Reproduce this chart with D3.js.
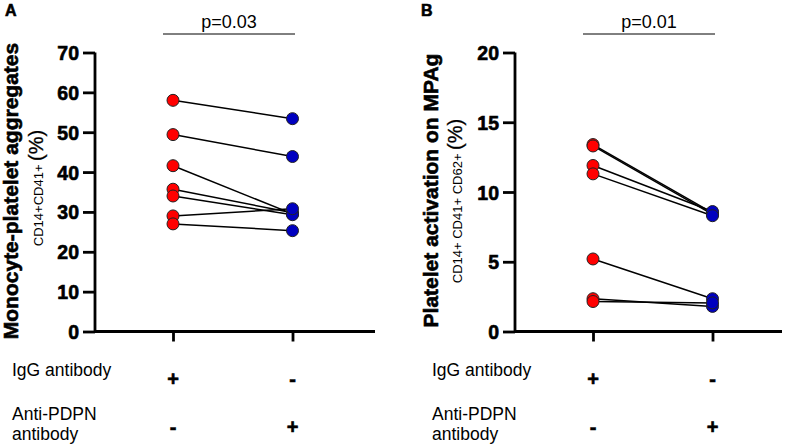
<!DOCTYPE html>
<html>
<head>
<meta charset="utf-8">
<script src="https://cdn.jsdelivr.net/npm/d3@7"></script>
<style>
  body { margin: 0; background: #fff; }
  svg { font-family: Arial, "Liberation Sans", sans-serif; }
  .heavy { stroke: #000; stroke-width: 0.6px; }
</style>
</head>
<body>
<div id="chart"></div>
<script>
// data
const groups = ["IgG", "antiPDPN"]

const aggIgG  = [58, 49.4, 41.6, 35.7, 34, 29, 27]
const aggPDPN = [53.4, 43.9, 29.5, 29.8, 29.3, 30.8, 25.3]
const aggTicks = [0, 10, 20, 30, 40, 50, 60, 70]

const actIgG  = [13.4, 13.3, 11.9, 11.3, 5.2, 2.35, 2.15]
const actPDPN = [8.5, 8.4, 8.6, 8.3, 2.35, 1.8, 2.05]
const actTicks = [0, 5, 10, 15, 20]

const rowLabels = [["IgG antibody"], ["Anti-PDPN", "antibody"]]
const rowSigns = [["+", "-"], ["-", "+"]]

const svg = d3.select("#chart").append("svg")
    .attr("width", 789)
    .attr("height", 447)

function drawPanel(p){
    let g = svg.append("g")

    let y = d3.scaleLinear().domain([0, p.max]).range([331.5, 52.5])
    let x = d3.scalePoint().domain(groups).range([p.x0 + 78, p.x0 + 197.5])

    // panel letter
    g.append("text").attr("x", p.letterX).attr("y", 16)
        .attr("font-size", 16).attr("font-weight", "bold").attr("class", "heavy").text(p.letter)

    // y axis
    let yAxis = d3.axisLeft(y).tickValues(p.ticks).tickSize(12).tickPadding(4)
    let ya = g.append("g").attr("transform", `translate(${p.x0},0)`).call(yAxis)
    ya.select(".domain").attr("stroke-width", 2.8).attr("d", `M0,${y(0)}V${y(p.max)}`)
    ya.selectAll(".tick line").attr("stroke-width", 2.8)
    ya.selectAll(".tick text").attr("font-size", 19.5).attr("font-weight", "bold")
        .attr("font-family", "Arial, 'Liberation Sans', sans-serif").attr("fill", "#000")
        .attr("class", "heavy").attr("dy", "0.36em")

    // x axis
    let xAxis = d3.axisBottom(x).tickSize(10).tickFormat("")
    let xa = g.append("g").attr("transform", `translate(0,${y(0)})`).call(xAxis)
    xa.select(".domain").attr("stroke-width", 2.8).attr("d", `M${p.x0},0H${p.x0 + p.xLen}`)
    xa.selectAll(".tick line").attr("stroke-width", 2.8)

    // titles
    g.append("text")
        .attr("transform", `translate(${p.titleX},${p.titleY}) rotate(-90)`)
        .attr("text-anchor", "middle").attr("font-size", 21).attr("font-weight", "bold")
        .attr("class", "heavy").text(p.title)
    let sub = g.append("text")
        .attr("transform", `translate(${p.subX},${p.subY}) rotate(-90)`)
        .attr("text-anchor", "middle")
    sub.append("tspan").attr("font-size", 13).text(p.sub + " ")
    sub.append("tspan").attr("font-size", 20).attr("stroke", "#000").attr("stroke-width", 0.3).text("(%)")

    // significance bar
    g.append("line").attr("x1", p.barX1).attr("x2", p.barX2)
        .attr("y1", 34).attr("y2", 34).attr("stroke", "#000").attr("stroke-width", 1)
    g.append("text").attr("x", (p.barX1 + p.barX2) / 2).attr("y", 28)
        .attr("text-anchor", "middle").attr("font-size", 18).text(p.pval)

    // paired lines
    let pairs = p.a.map((v, i) => [v, p.b[i]])
    g.selectAll(".pair").data(pairs).join("line")
        .attr("x1", x("IgG")).attr("x2", x("antiPDPN"))
        .attr("y1", d => y(d[0])).attr("y2", d => y(d[1]))
        .attr("stroke", "#000").attr("stroke-width", 1.5)

    g.selectAll(".ptA").data(p.a).join("circle")
        .attr("cx", x("IgG")).attr("cy", d => y(d)).attr("r", 6)
        .attr("fill", "#ff0000").attr("stroke", "#222").attr("stroke-width", 1)
    g.selectAll(".ptB").data(p.b).join("circle")
        .attr("cx", x("antiPDPN")).attr("cy", d => y(d)).attr("r", 6)
        .attr("fill", "#0000c0").attr("stroke", "#222").attr("stroke-width", 1)

    // treatment table
    let rowY = [376, 420]
    rowLabels.forEach((lines, r) => {
        let t = g.append("text").attr("x", p.labelX).attr("y", rowY[r]).attr("font-size", 17.5)
        lines.forEach((l, k) => t.append("tspan").attr("x", p.labelX).attr("dy", k ? 20 : 0).text(l))
        rowSigns[r].forEach((s, c) => {
            g.append("text").attr("x", x(groups[c])).attr("y", r ? 434 : 386)
                .attr("text-anchor", "middle").attr("font-size", 20).attr("font-weight", "bold")
                .attr("class", "heavy").text(s)
        })
    })
}

drawPanel({
    letter: "A", letterX: 5, x0: 95, xLen: 280, max: 70, ticks: aggTicks,
    a: aggIgG, b: aggPDPN,
    title: "Monocyte-platelet aggregates", titleX: 17.5, titleY: 191,
    sub: "CD14+CD41+", subX: 43, subY: 188,
    barX1: 163, barX2: 295, pval: "p=0.03", labelX: 12
})

drawPanel({
    letter: "B", letterX: 421, x0: 515, xLen: 267, max: 20, ticks: actTicks,
    a: actIgG, b: actPDPN,
    title: "Platelet activation on MPAg", titleX: 438, titleY: 190.5,
    sub: "CD14+ CD41+ CD62+", subX: 462, subY: 201,
    barX1: 583, barX2: 715, pval: "p=0.01", labelX: 432
})
</script>
</body>
</html>
